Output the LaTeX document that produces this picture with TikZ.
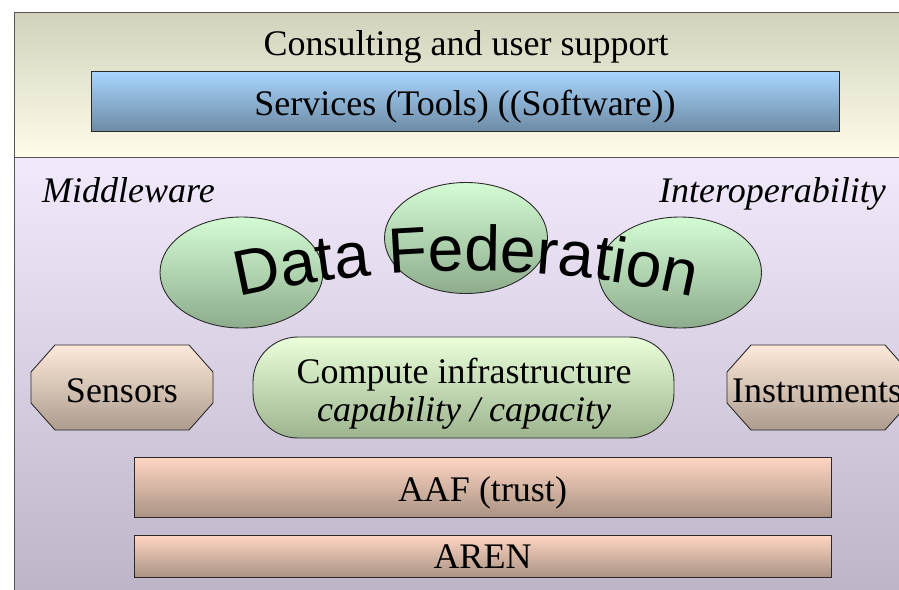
\documentclass[tikz,border=0pt]{standalone}
\usepackage{fontspec}
\setmainfont{Liberation Serif}
\newfontfamily\arialfont{Liberation Sans}
\usetikzlibrary{shapes.geometric,decorations.text}
\definecolor{khakitop}{HTML}{D1D1BC}
\definecolor{khakibot}{HTML}{FFFDEA}
\definecolor{lavtop}{HTML}{F2EAFC}
\definecolor{lavbot}{HTML}{BDB4C8}
\definecolor{bluetop}{HTML}{A9D6FE}
\definecolor{bluebot}{HTML}{6E8BA6}
\definecolor{greentop}{HTML}{D4FCD4}
\definecolor{greenbot}{HTML}{8DAC8D}
\definecolor{limetop}{HTML}{EAFFDA}
\definecolor{limebot}{HTML}{9DB48F}
\definecolor{tantop}{HTML}{FEEADB}
\definecolor{tanbot}{HTML}{AC9C8E}
\definecolor{peachtop}{HTML}{FFD6C2}
\definecolor{peachbot}{HTML}{AA9385}
\definecolor{edge}{HTML}{2A2A2A}
\definecolor{frame}{HTML}{555555}
\tikzset{
  big/.style={font=\fontsize{36}{38}\selectfont},
  fed/.style={ellipse, draw=edge, line width=0.9pt, top color=greentop, bottom color=greenbot, minimum width=163pt, minimum height=111pt, inner sep=0pt},
  octa/.style={draw=edge, line width=0.9pt, top color=tantop, bottom color=tanbot},
  layer/.style={draw=edge, line width=1pt, top color=peachtop, bottom color=peachbot, inner sep=0pt}
}
\begin{document}
\begin{tikzpicture}[x=1pt,y=1pt]
\useasboundingbox (0,0) rectangle (899,-589);
% panels
\fill[white] (0,0) rectangle (899,-589);
\path[top color=khakitop, bottom color=khakibot] (14,-12) rectangle (905,-157);
\path[top color=lavtop, bottom color=lavbot] (14,-157) rectangle (905,-595);
\draw[frame, line width=1pt] (905,-12) -- (14,-12) -- (14,-595);
\draw[frame, line width=1pt] (14,-157) -- (905,-157);
% top texts
\node[big, anchor=base] (consult) at (466,-55) {Consulting and user support};
\node[draw=edge, line width=1pt, top color=bluetop, bottom color=bluebot, minimum width=748pt, minimum height=60pt, inner sep=0pt] (services) at (465,-101) {};
\node[big, anchor=base] (servtext) at (465,-115) {Services (Tools) ((Software))};
% labels
\node[anchor=base west, inner sep=0pt, font=\fontsize{36}{38}\selectfont\itshape] (middle) at (42,-202) {Middleware};
\node[anchor=base east, inner sep=0pt, font=\fontsize{36}{38}\selectfont\itshape] (interop) at (886,-202) {Interoperability};
% ellipses
\node[fed] (e1) at (241.5,-272.5) {};
\node[fed] (e2) at (466,-238) {};
\node[fed] (e3) at (680,-272.5) {};
% Data Federation
\path[decorate, decoration={text along path, text align=center, text={|\arialfont\fontsize{64}{64}\selectfont|Data Federation}}]
  (466,-1283) ++(104.3:1012) arc[start angle=104.3, end angle=75.7, radius=1012];
% compute
\node[draw=edge, line width=0.9pt, rounded corners=45pt, top color=limetop, bottom color=limebot, minimum width=421pt, minimum height=101pt, inner sep=0pt] (compute) at (463.5,-387.5) {};
\node[big, anchor=base] (comp1) at (464,-383) {Compute infrastructure};
\node[anchor=base, font=\fontsize{36}{38}\selectfont\itshape] (comp2) at (464,-421) {capability / capacity};
% octagons
\path[octa] (55,-345) -- (189,-345) -- (213,-372) -- (213,-403) -- (189,-430) -- (55,-430) -- (31,-403) -- (31,-372) -- cycle;
\node[big, anchor=base] (sensors) at (122,-402) {Sensors};
\path[octa] (751,-345) -- (885,-345) -- (909,-372) -- (909,-403) -- (885,-430) -- (751,-430) -- (727,-403) -- (727,-372) -- cycle;
\node[big, anchor=base] (instr) at (817,-402) {Instruments};
% layers
\node[layer, minimum width=697pt, minimum height=60pt] (aaf) at (482.5,-487) {};
\node[big, anchor=base] (aaftext) at (482.5,-501) {AAF (trust)};
\node[layer, minimum width=697pt, minimum height=42pt] (aren) at (482.5,-556) {};
\node[big, anchor=base] (arentext) at (482.5,-568) {AREN};
\end{tikzpicture}
\end{document}
